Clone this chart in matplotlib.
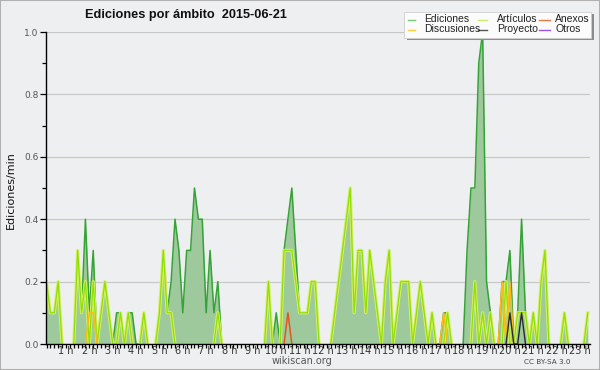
import numpy as np
import matplotlib.pyplot as plt
from matplotlib.patches import Rectangle
from matplotlib.lines import Line2D

# edits per minute, 10-minute bins from 00:00 to 23:10
ediciones = [
    0.2, 0.1, 0.1, 0.2, 0, 0, 0, 0, 0.3, 0.1, 0.4, 0.1,
    0.3, 0, 0.1, 0.2, 0.1, 0, 0.1, 0.1, 0, 0.1, 0.1, 0,
    0, 0.1, 0, 0, 0, 0.1, 0.3, 0.1, 0.2, 0.4, 0.3, 0.1,
    0.3, 0.3, 0.5, 0.4, 0.4, 0.1, 0.3, 0.1, 0.2, 0, 0, 0,
    0, 0, 0, 0, 0, 0, 0, 0, 0, 0.2, 0, 0.1,
    0, 0.3, 0.4, 0.5, 0.3, 0.1, 0.1, 0.1, 0.2, 0.2, 0, 0,
    0, 0, 0.1, 0.2, 0.3, 0.4, 0.5, 0.1, 0.3, 0.3, 0.1, 0.3,
    0.2, 0.1, 0, 0.2, 0.3, 0, 0.1, 0.2, 0.2, 0.2, 0, 0.1,
    0.2, 0.1, 0, 0.1, 0, 0, 0.1, 0.1, 0, 0, 0, 0,
    0.3, 0.5, 0.5, 0.9, 1.0, 0.2, 0.1, 0, 0, 0.2, 0.2, 0.3,
    0, 0.1, 0.4, 0.1, 0, 0.1, 0, 0.2, 0.3, 0, 0, 0,
    0, 0.1, 0, 0, 0, 0, 0, 0.1,
]
articulos = [
    0.2, 0.1, 0.1, 0.2, 0, 0, 0, 0, 0.3, 0.1, 0.2, 0,
    0.2, 0, 0.1, 0.2, 0.1, 0, 0, 0.1, 0, 0.1, 0, 0,
    0, 0.1, 0, 0, 0, 0.1, 0.3, 0.1, 0.1, 0, 0, 0,
    0, 0, 0, 0, 0, 0, 0, 0, 0.1, 0, 0, 0,
    0, 0, 0, 0, 0, 0, 0, 0, 0, 0.2, 0, 0,
    0, 0.3, 0.3, 0.3, 0.2, 0.1, 0.1, 0.1, 0.2, 0.2, 0, 0,
    0, 0, 0.1, 0.2, 0.3, 0.4, 0.5, 0.1, 0.3, 0.3, 0.1, 0.3,
    0.2, 0.1, 0, 0.2, 0.3, 0, 0.1, 0.2, 0.2, 0.2, 0, 0.1,
    0.2, 0.1, 0, 0.1, 0, 0, 0, 0.1, 0, 0, 0, 0,
    0, 0, 0.2, 0, 0.1, 0, 0.1, 0, 0, 0, 0.2, 0,
    0, 0.1, 0.1, 0.1, 0, 0.1, 0, 0.2, 0.3, 0, 0, 0,
    0, 0.1, 0, 0, 0, 0, 0, 0.1,
]
discusiones = [
    0, 0, 0, 0, 0, 0, 0, 0, 0, 0, 0, 0.1,
    0.1, 0, 0, 0, 0, 0, 0, 0, 0, 0, 0, 0,
    0, 0, 0, 0, 0, 0, 0, 0, 0, 0, 0, 0,
    0, 0, 0, 0, 0, 0, 0, 0, 0, 0, 0, 0,
    0, 0, 0, 0, 0, 0, 0, 0, 0, 0, 0, 0,
    0, 0, 0, 0, 0, 0, 0, 0, 0, 0, 0, 0,
    0, 0, 0, 0, 0, 0, 0, 0, 0, 0, 0, 0,
    0, 0, 0, 0, 0, 0, 0, 0, 0, 0, 0, 0,
    0, 0, 0, 0, 0, 0, 0.1, 0, 0, 0, 0, 0,
    0, 0, 0, 0, 0, 0, 0, 0, 0, 0.2, 0, 0.2,
    0, 0, 0, 0, 0, 0, 0, 0, 0, 0, 0, 0,
    0, 0, 0, 0, 0, 0, 0, 0,
]
anexos = [
    0, 0, 0, 0, 0, 0, 0, 0, 0, 0, 0, 0,
    0, 0, 0, 0, 0, 0, 0, 0, 0, 0, 0, 0,
    0, 0, 0, 0, 0, 0, 0, 0, 0, 0, 0, 0,
    0, 0, 0, 0, 0, 0, 0, 0, 0, 0, 0, 0,
    0, 0, 0, 0, 0, 0, 0, 0, 0, 0, 0, 0,
    0, 0, 0.1, 0, 0, 0, 0, 0, 0, 0, 0, 0,
    0, 0, 0, 0, 0, 0, 0, 0, 0, 0, 0, 0,
    0, 0, 0, 0, 0, 0, 0, 0, 0, 0, 0, 0,
    0, 0, 0, 0, 0, 0, 0, 0, 0, 0, 0, 0,
    0, 0, 0, 0, 0, 0, 0, 0, 0, 0, 0, 0,
    0, 0, 0, 0, 0, 0, 0, 0, 0, 0, 0, 0,
    0, 0, 0, 0, 0, 0, 0, 0,
]
proyecto = [
    0, 0, 0, 0, 0, 0, 0, 0, 0, 0, 0, 0,
    0, 0, 0, 0, 0, 0, 0, 0, 0, 0, 0, 0,
    0, 0, 0, 0, 0, 0, 0, 0, 0, 0, 0, 0,
    0, 0, 0, 0, 0, 0, 0, 0, 0, 0, 0, 0,
    0, 0, 0, 0, 0, 0, 0, 0, 0, 0, 0, 0,
    0, 0, 0, 0, 0, 0, 0, 0, 0, 0, 0, 0,
    0, 0, 0, 0, 0, 0, 0, 0, 0, 0, 0, 0,
    0, 0, 0, 0, 0, 0, 0, 0, 0, 0, 0, 0,
    0, 0, 0, 0, 0, 0, 0, 0, 0, 0, 0, 0,
    0, 0, 0, 0, 0, 0, 0, 0, 0, 0, 0, 0.1,
    0, 0, 0.1, 0, 0, 0, 0, 0, 0, 0, 0, 0,
    0, 0, 0, 0, 0, 0, 0, 0,
]

hours = list(range(1, 24))
hour_labels = [f'{h} h' for h in hours]
y_major = [0.0, 0.2, 0.4, 0.6, 0.8, 1.0]
y_minor = [0.1, 0.3, 0.5, 0.7, 0.9]

legend_names = ['Ediciones', 'Discusiones', 'Artículos', 'Proyecto', 'Anexos', 'Otros']
legend_colors = ['#7acc7a', '#ffcc44', '#c8ec66', '#555555', '#ee7744', '#9955ee']

W, H = 600, 370
BG = '#eeeff0'


def fx(px):
    return px / W


def fy(py):
    return 1 - py / H


def hide_flat_zeros(vals):
    # keep zero runs off the baseline so they don't paint over the axis
    v = np.array(vals, dtype=float)
    z = v == 0
    prev = np.r_[True, z[:-1]]
    nxt = np.r_[z[1:], True]
    return np.ma.masked_where(z & prev & nxt, v)


fig = plt.figure(figsize=(6, 3.7), dpi=100)
fig.patch.set_facecolor(BG)
ax = fig.add_axes([fx(46), 26 / H, 544 / W, 312 / H])
ax.set_facecolor(BG)

x = np.arange(len(ediciones))
ax.fill_between(x, ediciones, color='#9dc99d', lw=0, zorder=1)
ax.plot(x, hide_flat_zeros(ediciones), color='#36a336', lw=1.1, zorder=3)
ax.plot(x, hide_flat_zeros(articulos), color='#d6f06a', lw=2.3, zorder=4)
ax.plot(x, hide_flat_zeros(articulos), color='#8fe000', lw=0.9, zorder=5)
ax.plot(x, hide_flat_zeros(discusiones), color='#ffbb10', lw=1.1, zorder=6)
ax.plot(x, hide_flat_zeros(anexos), color='#e8541c', lw=1.1, zorder=6)
ax.plot(x, hide_flat_zeros(proyecto), color='#2b2b2b', lw=1.0, zorder=7)

step = 544 / 139.7
ax.set_xlim(-0.5 / step, 139.7 - 0.5 / step)
ax.set_ylim(0, 1.0)

# axes
for s in ['top', 'right']:
    ax.spines[s].set_visible(False)
for s in ['left', 'bottom']:
    ax.spines[s].set_color('black')
    ax.spines[s].set_linewidth(1.0)
    ax.spines[s].set_zorder(10)

ax.set_yticks(y_major)
ax.set_yticks(y_minor, minor=True)
ax.set_yticklabels([f'{v:.1f}' for v in y_major])
ax.yaxis.grid(True, which='major', color='#c8c8c8', lw=0.9, zorder=0)
ax.set_axisbelow(True)
ax.tick_params(axis='y', which='major', length=4.5, width=0.9, pad=1,
               labelsize=6.5, labelcolor='#555555')
ax.tick_params(axis='y', which='minor', length=3, width=0.9)

ax.set_xticks([h * 6 for h in hours])
ax.set_xticks(x, minor=True)
ax.set_xticklabels([])
ax.tick_params(axis='x', which='both', length=3.2, width=0.9, direction='out')
for h, lab in zip(hours, hour_labels):
    ax.text(h * 6 - 1, -6.8 / 312, lab, ha='center', va='center', fontsize=7,
            color='#333333', transform=ax.get_xaxis_transform())

# titles and captions
fig.text(fx(85), fy(15), 'Ediciones por ámbito  2015-06-21', ha='left', va='center',
         fontsize=9.2, fontweight='bold', family='Liberation Sans', color='#111111')
fig.text(fx(11), fy(190), 'Ediciones/min', rotation=90, ha='center', va='center',
         fontsize=8, color='#111111')
fig.text(fx(302), fy(361.5), 'wikiscan.org', ha='center', va='center', fontsize=7,
         color='#555555')
fig.text(fx(570), fy(362.5), 'CC BY-SA 3.0', ha='right', va='center', fontsize=5.2,
         color='#444444')

# legend box with shadow
fig.patches.append(Rectangle((fx(407), fy(40)), fx(594) - fx(407), fy(14) - fy(40),
                             transform=fig.transFigure, facecolor='#8c8c8c',
                             edgecolor='none', zorder=20))
fig.patches.append(Rectangle((fx(404), fy(37.5)), fx(591) - fx(404), fy(11.5) - fy(37.5),
                             transform=fig.transFigure, facecolor='#fbfbfb',
                             edgecolor='#cfcfcf', lw=0.6, zorder=21))
col_handle = [(408, 415), (478, 487), (539, 550)]
col_text = [424, 497, 555]
rows = [19.5, 29.5]
for k, (name, col) in enumerate(zip(legend_names, legend_colors)):
    c, r = divmod(k, 2)
    x0, x1 = col_handle[c]
    fig.add_artist(Line2D([fx(x0), fx(x1)], [fy(rows[r]), fy(rows[r])], color=col,
                          lw=1.0, transform=fig.transFigure, zorder=22))
    fig.text(fx(col_text[c]), fy(rows[r]), name, ha='left', va='center', fontsize=7.5,
             family='Liberation Sans', color='#222222', zorder=23)

# outer frame
fig.patches.append(Rectangle((0, 0), 1, 1, transform=fig.transFigure, fill=False,
                             edgecolor='#b0b0b0', lw=1.5, zorder=30))

fig.savefig('out.png', dpi=100, facecolor=BG)
